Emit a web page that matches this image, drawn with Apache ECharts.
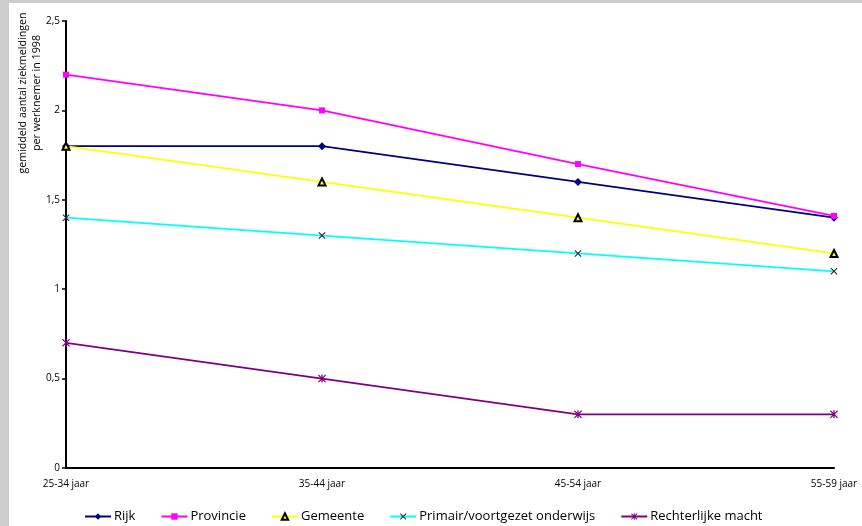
<!DOCTYPE html>
<html>
<head>
<meta charset="utf-8">
<script src="https://cdn.jsdelivr.net/npm/echarts@6/dist/echarts.min.js"></script>
<style>
  html, body { margin: 0; padding: 0; background: #cccccc; }
  #chart { position: absolute; left: 9px; top: 3px; width: 853px; height: 523px; background: #ffffff; }
</style>
</head>
<body>
<div id="chart"></div>
<script>
// Leeftijdsklassen
const categories = ['25-34 jaar', '35-44 jaar', '45-54 jaar', '55-59 jaar'];

// Gemiddeld aantal ziekmeldingen per werknemer, 1998
const rijk = [1.8, 1.8, 1.6, 1.4];
const provincie = [2.2, 2.0, 1.7, 1.41];
const gemeente = [1.8, 1.6, 1.4, 1.2];
const primair = [1.4, 1.3, 1.2, 1.1];
const rechterlijk = [0.7, 0.5, 0.3, 0.3];

const yTicks = [0, 0.5, 1, 1.5, 2, 2.5];

const FONT = '"Open Sans", "Noto Sans", sans-serif';
const crossPath = 'path://M0,1L1,0L5,4L9,0L10,1L6,5L10,9L9,10L5,6L1,10L0,9L4,5Z';
const starPath = 'path://M0,1L1,0L5,4L9,0L10,1L6,5L10,9L9,10L5,6L1,10L0,9L4,5Z M4.2,0L5.8,0L5.8,10L4.2,10Z';

function line(name, data, color, symbol, size, itemStyle) {
  return {
    name, type: 'line', data,
    symbol, symbolSize: size,
    lineStyle: { color, width: 1.8 },
    itemStyle: Object.assign({ color }, itemStyle || {}),
    emphasis: { disabled: true },
    animation: false
  };
}

const chart = echarts.init(document.getElementById('chart'));
chart.setOption({
  animation: false,
  textStyle: { fontFamily: FONT },
  grid: { left: 57, right: 28, top: 18, bottom: 58 },
  xAxis: {
    type: 'category',
    data: categories,
    boundaryGap: false,
    axisLine: { lineStyle: { color: '#000', width: 2 } },
    axisTick: { show: false },
    axisLabel: { color: '#000', fontSize: 10, margin: 11, fontFamily: FONT }
  },
  yAxis: {
    type: 'value',
    min: yTicks[0],
    max: yTicks[yTicks.length - 1],
    interval: 0.5,
    splitLine: { show: false },
    axisLine: { show: true, lineStyle: { color: '#000', width: 2 } },
    axisTick: { show: true, length: 4, lineStyle: { color: '#000', width: 1.5 } },
    axisLabel: {
      color: '#000', fontSize: 10, margin: 6, fontFamily: FONT,
      formatter: v => String(v).replace('.', ',')
    }
  },
  legend: {
    left: 75, top: 507, padding: 0,
    itemWidth: 26, itemHeight: 8, itemGap: 25,
    textStyle: { color: '#000', fontSize: 13, fontFamily: FONT, padding: [0, 0, 0, -2] },
    data: ['Rijk', 'Provincie', 'Gemeente', 'Primair/voortgezet onderwijs', 'Rechterlijke macht']
  },
  graphic: [{
    type: 'text',
    x: 21, y: 90,
    rotation: Math.PI / 2,
    style: {
      text: 'gemiddeld aantal ziekmeldingen\nper werknemer in 1998',
      fontSize: 10.7, fontFamily: FONT, fill: '#000',
      align: 'center', verticalAlign: 'middle', lineHeight: 14
    }
  }],
  series: [
    line('Rijk', rijk, '#000080', 'diamond', 8),
    line('Provincie', provincie, '#ff00ff', 'rect', 6),
    line('Gemeente', gemeente, '#ffff00', 'triangle', 7, { color: '#ffff00', borderColor: '#000', borderWidth: 2 }),
    line('Primair/voortgezet onderwijs', primair, '#00ffff', crossPath, 7, { color: '#222' }),
    line('Rechterlijke macht', rechterlijk, '#800080', starPath, 8, { color: '#800080' })
  ]
});
</script>
</body>
</html>
